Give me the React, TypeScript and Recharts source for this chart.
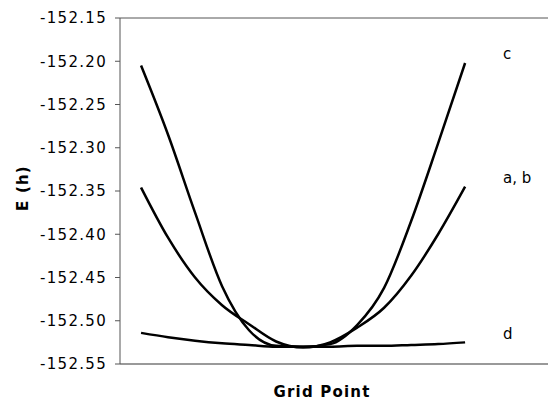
import { LineChart, Line, XAxis, YAxis, ReferenceLine } from "recharts";

const gridPoints = [0, 1, 2, 3, 4, 5, 6, 7, 8, 9, 10, 11, 12];
const curveC = [-152.205, -152.285, -152.375, -152.46, -152.511, -152.529, -152.53, -152.527, -152.505, -152.462, -152.385, -152.295, -152.202];
const curveAB = [-152.346, -152.404, -152.45, -152.482, -152.504, -152.524, -152.531, -152.525, -152.508, -152.485, -152.448, -152.4, -152.345];
const curveD = [-152.514, -152.519, -152.523, -152.526, -152.528, -152.53, -152.53, -152.53, -152.529, -152.529, -152.528, -152.527, -152.525];
const yTicks = [-152.55, -152.5, -152.45, -152.4, -152.35, -152.3, -152.25, -152.2, -152.15];

const data = gridPoints.map((g, i) => ({ g, c: curveC[i], ab: curveAB[i], d: curveD[i] }));

const font = "'DejaVu Sans', Verdana, sans-serif";

// name label drawn only beside the last point of each curve
const endLabel = (name: string) => (props: any) => {
    if (props.index !== gridPoints.length - 1) return null;
    return (
        <text x={props.x + 38} y={props.y - 8} fontFamily={font} fontSize={15} fill="#000" dominantBaseline="middle">
            {name}
        </text>
    );
};

export default function App() {
    return (
        <div style={{ position: "absolute", left: 0, top: 0 }}>
            <LineChart width={548} height={400} data={data} margin={{ top: 18, right: 0, bottom: 0, left: 0 }}>
                <XAxis
                    dataKey="g"
                    type="number"
                    domain={[-0.78, 15.07]}
                    tick={false}
                    height={36}
                    axisLine={{ stroke: "#999", strokeWidth: 2 }}
                    tickLine={false}
                    label={{
                        content: () => (
                            <text x={322} y={397} textAnchor="middle" fontFamily={font} fontWeight="bold" fontSize={15} letterSpacing={1.2} fill="#000">
                                Grid Point
                            </text>
                        ),
                    }}
                />
                <YAxis
                    type="number"
                    domain={[-152.55, -152.15]}
                    ticks={yTicks}
                    interval={0}
                    width={120}
                    tickSize={5}
                    tickMargin={8}
                    tickFormatter={(v: number) => v.toFixed(2)}
                    tick={{ fill: "#000", fontSize: 15, fontFamily: font, letterSpacing: 1.3 }}
                    axisLine={{ stroke: "#555" }}
                    tickLine={{ stroke: "#555" }}
                    label={{
                        content: () => (
                            <text x={28} y={188} transform="rotate(-90 28 188)" textAnchor="middle" fontFamily={font} fontWeight="bold" fontSize={15} letterSpacing={1.2} fill="#000">
                                E (h)
                            </text>
                        ),
                    }}
                />
                <ReferenceLine y={-152.15} stroke="#555" />
                <Line dataKey="c" type="monotone" stroke="#000" strokeWidth={2.5} dot={false} isAnimationActive={false} label={endLabel("c")} />
                <Line dataKey="ab" type="monotone" stroke="#000" strokeWidth={2.5} dot={false} isAnimationActive={false} label={endLabel("a, b")} />
                <Line dataKey="d" type="monotone" stroke="#000" strokeWidth={2.5} dot={false} isAnimationActive={false} label={endLabel("d")} />
            </LineChart>
        </div>
    );
}
